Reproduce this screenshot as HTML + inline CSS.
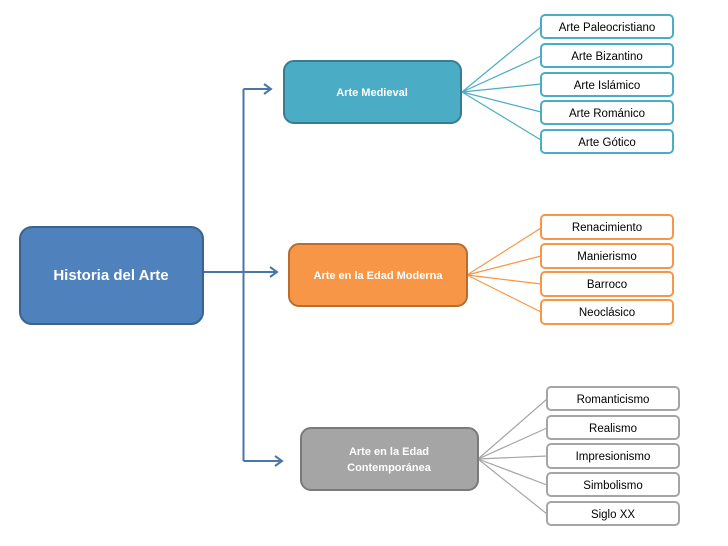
<!DOCTYPE html>
<html><head><meta charset="utf-8"><style>
html,body{margin:0;padding:0;background:#fff;}
svg{display:block;}
text{font-family:"Liberation Sans",sans-serif;}
</style></head><body>
<svg width="728" height="546" viewBox="0 0 728 546" xmlns="http://www.w3.org/2000/svg">
<!-- main connectors -->
<g stroke="#4a76a8" stroke-width="2" fill="none">
<path d="M243.5 89 V461"/>
<path d="M243.5 89 H270"/>
<path d="M203 272 H276"/>
<path d="M243.5 461 H282"/>
<path d="M264 84 L271 89 L264 94"/>
<path d="M270 267 L277 272 L270 277"/>
<path d="M275 456 L282 461 L275 466"/>
</g>
<!-- Historia -->
<rect x="20" y="227" width="183" height="97" rx="12" fill="#4f81bd" stroke="#3a6390" stroke-width="2"/>
<text x="111" y="280" font-size="15" font-weight="bold" fill="#fff" text-anchor="middle">Historia del Arte</text>

<!-- Medieval -->
<g stroke="#4bacc6" stroke-width="1.2">
<line x1="462" y1="92" x2="541" y2="27"/>
<line x1="462" y1="92" x2="541" y2="56"/>
<line x1="462" y1="92" x2="541" y2="84"/>
<line x1="462" y1="92" x2="541" y2="112"/>
<line x1="462" y1="92" x2="541" y2="140"/>
</g>
<rect x="284" y="61" width="177" height="62" rx="10" fill="#4bacc6" stroke="#357d91" stroke-width="2"/>
<text x="372" y="96" font-size="11" font-weight="bold" fill="#fff" text-anchor="middle">Arte Medieval</text>
<g fill="#fff" stroke="#4bacc6" stroke-width="2">
<rect x="541" y="15" width="132" height="23" rx="4"/>
<rect x="541" y="44" width="132" height="23" rx="4"/>
<rect x="541" y="73" width="132" height="23" rx="4"/>
<rect x="541" y="101" width="132" height="23" rx="4"/>
<rect x="541" y="130" width="132" height="23" rx="4"/>
</g>
<g font-size="11.5" fill="#000" text-anchor="middle">
<text x="607" y="31">Arte Paleocristiano</text>
<text x="607" y="60">Arte Bizantino</text>
<text x="607" y="89">Arte Islámico</text>
<text x="607" y="117">Arte Románico</text>
<text x="607" y="146">Arte Gótico</text>
</g>

<!-- Moderna -->
<g stroke="#f79646" stroke-width="1.2">
<line x1="467" y1="275" x2="541" y2="228"/>
<line x1="467" y1="275" x2="541" y2="256"/>
<line x1="467" y1="275" x2="541" y2="284"/>
<line x1="467" y1="275" x2="541" y2="312"/>
</g>
<rect x="289" y="244" width="178" height="62" rx="10" fill="#f79646" stroke="#b66d2e" stroke-width="2"/>
<text x="378" y="279" font-size="11" font-weight="bold" fill="#fff" text-anchor="middle">Arte en la Edad Moderna</text>
<g fill="#fff" stroke="#f79646" stroke-width="2">
<rect x="541" y="215" width="132" height="24" rx="4"/>
<rect x="541" y="244" width="132" height="24" rx="4"/>
<rect x="541" y="272" width="132" height="24" rx="4"/>
<rect x="541" y="300" width="132" height="24" rx="4"/>
</g>
<g font-size="11.5" fill="#000" text-anchor="middle">
<text x="607" y="231">Renacimiento</text>
<text x="607" y="260">Manierismo</text>
<text x="607" y="288">Barroco</text>
<text x="607" y="316">Neoclásico</text>
</g>

<!-- Contemporanea -->
<g stroke="#a5a5a5" stroke-width="1.2">
<line x1="478" y1="459" x2="547" y2="399"/>
<line x1="478" y1="459" x2="547" y2="428"/>
<line x1="478" y1="459" x2="547" y2="456"/>
<line x1="478" y1="459" x2="547" y2="485"/>
<line x1="478" y1="459" x2="547" y2="514"/>
</g>
<rect x="301" y="428" width="177" height="62" rx="10" fill="#a5a5a5" stroke="#7a7a7a" stroke-width="2"/>
<text x="389" y="455" font-size="11" font-weight="bold" fill="#fff" text-anchor="middle">Arte en la Edad</text>
<text x="389" y="471" font-size="11" font-weight="bold" fill="#fff" text-anchor="middle">Contemporánea</text>
<g fill="#fff" stroke="#a5a5a5" stroke-width="2">
<rect x="547" y="387" width="132" height="23" rx="4"/>
<rect x="547" y="416" width="132" height="23" rx="4"/>
<rect x="547" y="444" width="132" height="24" rx="4"/>
<rect x="547" y="473" width="132" height="23" rx="4"/>
<rect x="547" y="502" width="132" height="23" rx="4"/>
</g>
<g font-size="11.5" fill="#000" text-anchor="middle">
<text x="613" y="403">Romanticismo</text>
<text x="613" y="432">Realismo</text>
<text x="613" y="460">Impresionismo</text>
<text x="613" y="489">Simbolismo</text>
<text x="613" y="518">Siglo XX</text>
</g>
</svg>
</body></html>
